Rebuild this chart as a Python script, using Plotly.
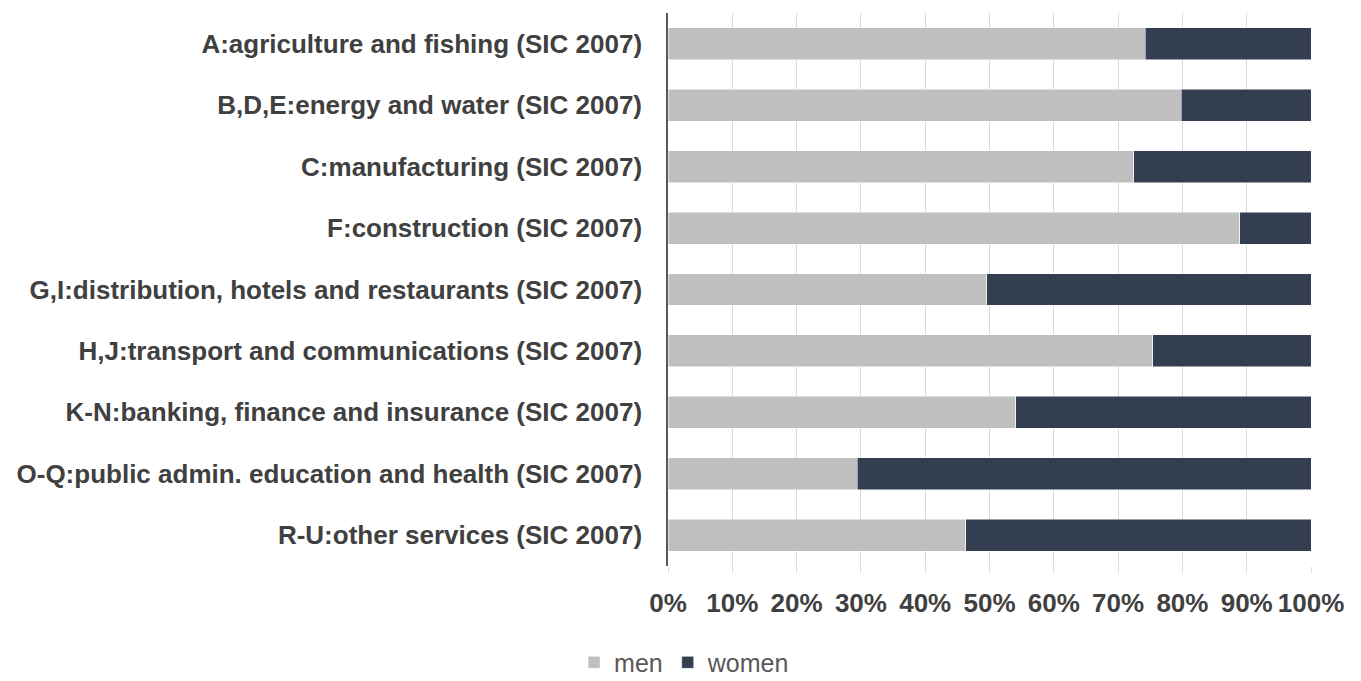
import plotly.graph_objects as go

# Industry sectors (SIC 2007), top to bottom
sectors = [
    "A:agriculture and fishing (SIC 2007)",
    "B,D,E:energy and water (SIC 2007)",
    "C:manufacturing (SIC 2007)",
    "F:construction (SIC 2007)",
    "G,I:distribution, hotels and restaurants (SIC 2007)",
    "H,J:transport and communications (SIC 2007)",
    "K-N:banking, finance and insurance (SIC 2007)",
    "O-Q:public admin. education and health (SIC 2007)",
    "R-U:other services (SIC 2007)",
]

# Share of workers in each sector (%)
men = [74.2, 79.8, 72.4, 88.9, 49.6, 75.4, 54.1, 29.4, 46.3]
women = [25.8, 20.2, 27.6, 11.1, 50.4, 24.6, 45.9, 70.6, 53.7]

x_ticks = [0, 10, 20, 30, 40, 50, 60, 70, 80, 90, 100]
x_tick_labels = [f"{v}%" for v in x_ticks]

MEN_COLOR = "#bfbfbf"
WOMEN_COLOR = "#333f50"
TEXT_COLOR = "#404040"
FONT = "Liberation Sans, Arial, sans-serif"

fig = go.Figure()
fig.add_trace(go.Bar(
    y=sectors, x=men, name="men", orientation="h",
    marker=dict(color=MEN_COLOR, line=dict(color="white", width=0.5)),
))
fig.add_trace(go.Bar(
    y=sectors, x=women, name="women", orientation="h",
    marker=dict(color=WOMEN_COLOR, line=dict(color="white", width=0.5)),
))

fig.update_layout(
    width=1361, height=681,
    barmode="stack",
    bargap=0.48,
    plot_bgcolor="white",
    paper_bgcolor="white",
    margin=dict(l=668, r=50, t=13, b=115, autoexpand=False),
    font=dict(family=FONT, color=TEXT_COLOR),
    legend=dict(
        orientation="h",
        traceorder="normal",
        xref="container", x=0.503, xanchor="center",
        yref="container", y=0.027, yanchor="middle",
        font=dict(size=25, color="#595959"),
        itemwidth=30,
    ),
)

fig.update_xaxes(
    range=[0, 100],
    tickvals=x_ticks,
    ticktext=x_tick_labels,
    tickfont=dict(size=26, color=TEXT_COLOR, family=FONT, weight="bold"),
    showgrid=True, gridcolor="#d9d9d9", gridwidth=1,
    zeroline=False,
    showline=False,
    ticks="outside", ticklen=6, tickcolor="#d9d9d9",
    ticklabelstandoff=8,
    fixedrange=True,
)

fig.update_yaxes(
    categoryorder="array",
    categoryarray=sectors[::-1],
    tickfont=dict(size=26, color=TEXT_COLOR, family=FONT, weight="bold"),
    showgrid=False,
    showline=True, linecolor="#595959", linewidth=1.5,
    ticks="", ticklabelstandoff=19,
    fixedrange=True,
)

fig.write_html("out.html")
